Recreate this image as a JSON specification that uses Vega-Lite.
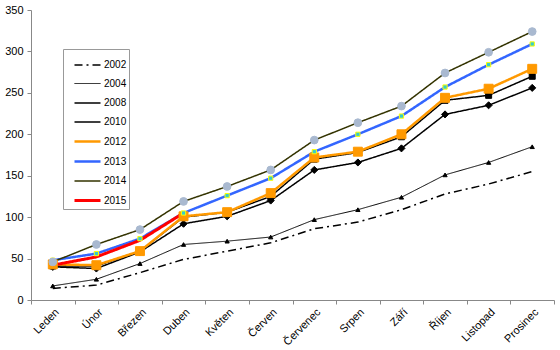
{
  "$schema": "https://vega.github.io/schema/vega-lite/v6.json",
  "autosize": {"type": "fit", "contains": "padding"},
  "width": 560,
  "height": 350,
  "padding": {"left": 4, "top": 4, "right": 5, "bottom": 2},
  "background": "white",
  "config": {
    "view": {"stroke": null},
    "font": "Liberation Sans",
    "axis": {"labelFont": "Liberation Sans", "labelFontSize": 11, "labelColor": "black", "domainColor": "#888888", "tickColor": "#888888", "grid": false, "title": null},
    "legend": {
      "orient": "none", "legendX": 32, "legendY": 39,
      "symbolType": "stroke", "symbolSize": 676, "symbolOffset": 8,
      "labelFont": "Liberation Sans", "labelFontSize": 10, "labelColor": "black",
      "labelExpr": "datum.label + '\u00a0\u00a0'",
      "rowPadding": -2.2, "padding": 2, "strokeColor": "#999999", "fillColor": "white",
      "labelOffset": 2, "title": null
    }
  },
  "datasets": {
    "d": [
      {"m": "Leden", "y": "2002", "v": 14}, {"m": "Únor", "y": "2002", "v": 18}, {"m": "Březen", "y": "2002", "v": 33}, {"m": "Duben", "y": "2002", "v": 49},
      {"m": "Květen", "y": "2002", "v": 59}, {"m": "Červen", "y": "2002", "v": 69}, {"m": "Červenec", "y": "2002", "v": 86}, {"m": "Srpen", "y": "2002", "v": 94},
      {"m": "Září", "y": "2002", "v": 109}, {"m": "Říjen", "y": "2002", "v": 128}, {"m": "Listopad", "y": "2002", "v": 140}, {"m": "Prosinec", "y": "2002", "v": 155},
      {"m": "Leden", "y": "2004", "v": 17}, {"m": "Únor", "y": "2004", "v": 25}, {"m": "Březen", "y": "2004", "v": 44}, {"m": "Duben", "y": "2004", "v": 67},
      {"m": "Květen", "y": "2004", "v": 71}, {"m": "Červen", "y": "2004", "v": 76}, {"m": "Červenec", "y": "2004", "v": 97}, {"m": "Srpen", "y": "2004", "v": 109},
      {"m": "Září", "y": "2004", "v": 124}, {"m": "Říjen", "y": "2004", "v": 151}, {"m": "Listopad", "y": "2004", "v": 166}, {"m": "Prosinec", "y": "2004", "v": 185},
      {"m": "Leden", "y": "2008", "v": 40}, {"m": "Únor", "y": "2008", "v": 38}, {"m": "Březen", "y": "2008", "v": 58}, {"m": "Duben", "y": "2008", "v": 92},
      {"m": "Květen", "y": "2008", "v": 101}, {"m": "Červen", "y": "2008", "v": 120}, {"m": "Červenec", "y": "2008", "v": 157}, {"m": "Srpen", "y": "2008", "v": 166},
      {"m": "Září", "y": "2008", "v": 183}, {"m": "Říjen", "y": "2008", "v": 224}, {"m": "Listopad", "y": "2008", "v": 235}, {"m": "Prosinec", "y": "2008", "v": 256},
      {"m": "Leden", "y": "2010", "v": 41}, {"m": "Únor", "y": "2010", "v": 41}, {"m": "Březen", "y": "2010", "v": 59}, {"m": "Duben", "y": "2010", "v": 100},
      {"m": "Květen", "y": "2010", "v": 106}, {"m": "Červen", "y": "2010", "v": 125}, {"m": "Červenec", "y": "2010", "v": 170}, {"m": "Srpen", "y": "2010", "v": 178},
      {"m": "Září", "y": "2010", "v": 197}, {"m": "Říjen", "y": "2010", "v": 241}, {"m": "Listopad", "y": "2010", "v": 247}, {"m": "Prosinec", "y": "2010", "v": 270},
      {"m": "Leden", "y": "2012", "v": 43}, {"m": "Únor", "y": "2012", "v": 42}, {"m": "Březen", "y": "2012", "v": 59}, {"m": "Duben", "y": "2012", "v": 101},
      {"m": "Květen", "y": "2012", "v": 106}, {"m": "Červen", "y": "2012", "v": 129}, {"m": "Červenec", "y": "2012", "v": 172}, {"m": "Srpen", "y": "2012", "v": 179},
      {"m": "Září", "y": "2012", "v": 200}, {"m": "Říjen", "y": "2012", "v": 244}, {"m": "Listopad", "y": "2012", "v": 255}, {"m": "Prosinec", "y": "2012", "v": 279},
      {"m": "Leden", "y": "2013", "v": 48}, {"m": "Únor", "y": "2013", "v": 56}, {"m": "Březen", "y": "2013", "v": 74}, {"m": "Duben", "y": "2013", "v": 105},
      {"m": "Květen", "y": "2013", "v": 126}, {"m": "Červen", "y": "2013", "v": 147}, {"m": "Červenec", "y": "2013", "v": 179}, {"m": "Srpen", "y": "2013", "v": 200},
      {"m": "Září", "y": "2013", "v": 222}, {"m": "Říjen", "y": "2013", "v": 257}, {"m": "Listopad", "y": "2013", "v": 284}, {"m": "Prosinec", "y": "2013", "v": 309},
      {"m": "Leden", "y": "2014", "v": 46}, {"m": "Únor", "y": "2014", "v": 67}, {"m": "Březen", "y": "2014", "v": 85}, {"m": "Duben", "y": "2014", "v": 119},
      {"m": "Květen", "y": "2014", "v": 137}, {"m": "Červen", "y": "2014", "v": 157}, {"m": "Červenec", "y": "2014", "v": 193}, {"m": "Srpen", "y": "2014", "v": 214},
      {"m": "Září", "y": "2014", "v": 234}, {"m": "Říjen", "y": "2014", "v": 274}, {"m": "Listopad", "y": "2014", "v": 299}, {"m": "Prosinec", "y": "2014", "v": 324},
      {"m": "Leden", "y": "2015", "v": 42}, {"m": "Únor", "y": "2015", "v": 52}, {"m": "Březen", "y": "2015", "v": 72}, {"m": "Duben", "y": "2015", "v": 105}
    ]
  },
  "data": {"name": "d"},
  "encoding": {
    "x": {
      "field": "m", "type": "nominal",
      "sort": ["Leden", "Únor", "Březen", "Duben", "Květen", "Červen", "Červenec", "Srpen", "Září", "Říjen", "Listopad", "Prosinec"],
      "scale": {"type": "band", "paddingInner": 0, "paddingOuter": 0},
      "axis": {"labelAngle": -45, "tickBand": "extent", "labelPadding": 2, "tickSize": 4}
    },
    "y": {
      "field": "v", "type": "quantitative",
      "scale": {"domain": [0, 350], "nice": false},
      "axis": {"values": [0, 50, 100, 150, 200, 250, 300, 350], "tickSize": 4, "labelPadding": 4}
    }
  },
  "layer": [
    {
      "mark": {"type": "line"},
      "encoding": {
        "x": {"field": "m", "type": "nominal", "bandPosition": 0.5,
          "sort": ["Leden", "Únor", "Březen", "Duben", "Květen", "Červen", "Červenec", "Srpen", "Září", "Říjen", "Listopad", "Prosinec"]},
        "color": {
          "field": "y", "type": "nominal",
          "scale": {"domain": ["2002", "2004", "2008", "2010", "2012", "2013", "2014", "2015"],
                    "range": ["#000000", "#000000", "#000000", "#000000", "#FF9900", "#3366FF", "#333300", "#FF0000"]}
        },
        "strokeDash": {
          "field": "y", "type": "nominal",
          "scale": {"domain": ["2002", "2004", "2008", "2010", "2012", "2013", "2014", "2015"],
                    "range": [[8, 4, 2, 4], [1, 0], [1, 0], [1, 0], [1, 0], [1, 0], [1, 0], [1, 0]]}
        },
        "strokeWidth": {
          "field": "y", "type": "nominal",
          "scale": {"type": "ordinal", "domain": ["2002", "2004", "2008", "2010", "2012", "2013", "2014", "2015"],
                    "range": [1.5, 1, 1.5, 1.5, 2.5, 2.5, 1.5, 3]}
        }
      }
    },
    {
      "transform": [{"filter": "datum.y != '2002' && datum.y != '2015'"}],
      "mark": {"type": "point", "filled": true, "opacity": 1, "strokeWidth": 1},
      "encoding": {
        "x": {"field": "m", "type": "nominal", "bandPosition": 0.5,
          "sort": ["Leden", "Únor", "Březen", "Duben", "Květen", "Červen", "Červenec", "Srpen", "Září", "Říjen", "Listopad", "Prosinec"]},
        "shape": {
          "field": "y", "type": "nominal", "legend": null,
          "scale": {"domain": ["2004", "2008", "2010", "2012", "2013", "2014"],
                    "range": ["triangle-up", "diamond", "square", "square", "square", "circle"]}
        },
        "fill": {
          "field": "y", "type": "nominal", "legend": null,
          "scale": {"domain": ["2004", "2008", "2010", "2012", "2013", "2014"],
                    "range": ["#000000", "#000000", "#000000", "#FF9900", "#33CCCC", "#A9B9D0"]}
        },
        "stroke": {
          "field": "y", "type": "nominal", "legend": null,
          "scale": {"domain": ["2004", "2008", "2010", "2012", "2013", "2014"],
                    "range": ["#000000", "#000000", "#000000", "#FF9900", "#FFFF00", "#A9B9D0"]}
        },
        "size": {
          "field": "y", "type": "nominal", "legend": null,
          "scale": {"type": "ordinal", "domain": ["2004", "2008", "2010", "2012", "2013", "2014"],
                    "range": [18, 50, 36, 80, 18, 60]}
        }
      }
    }
  ],
  "resolve": {"scale": {"stroke": "independent"}}
}
